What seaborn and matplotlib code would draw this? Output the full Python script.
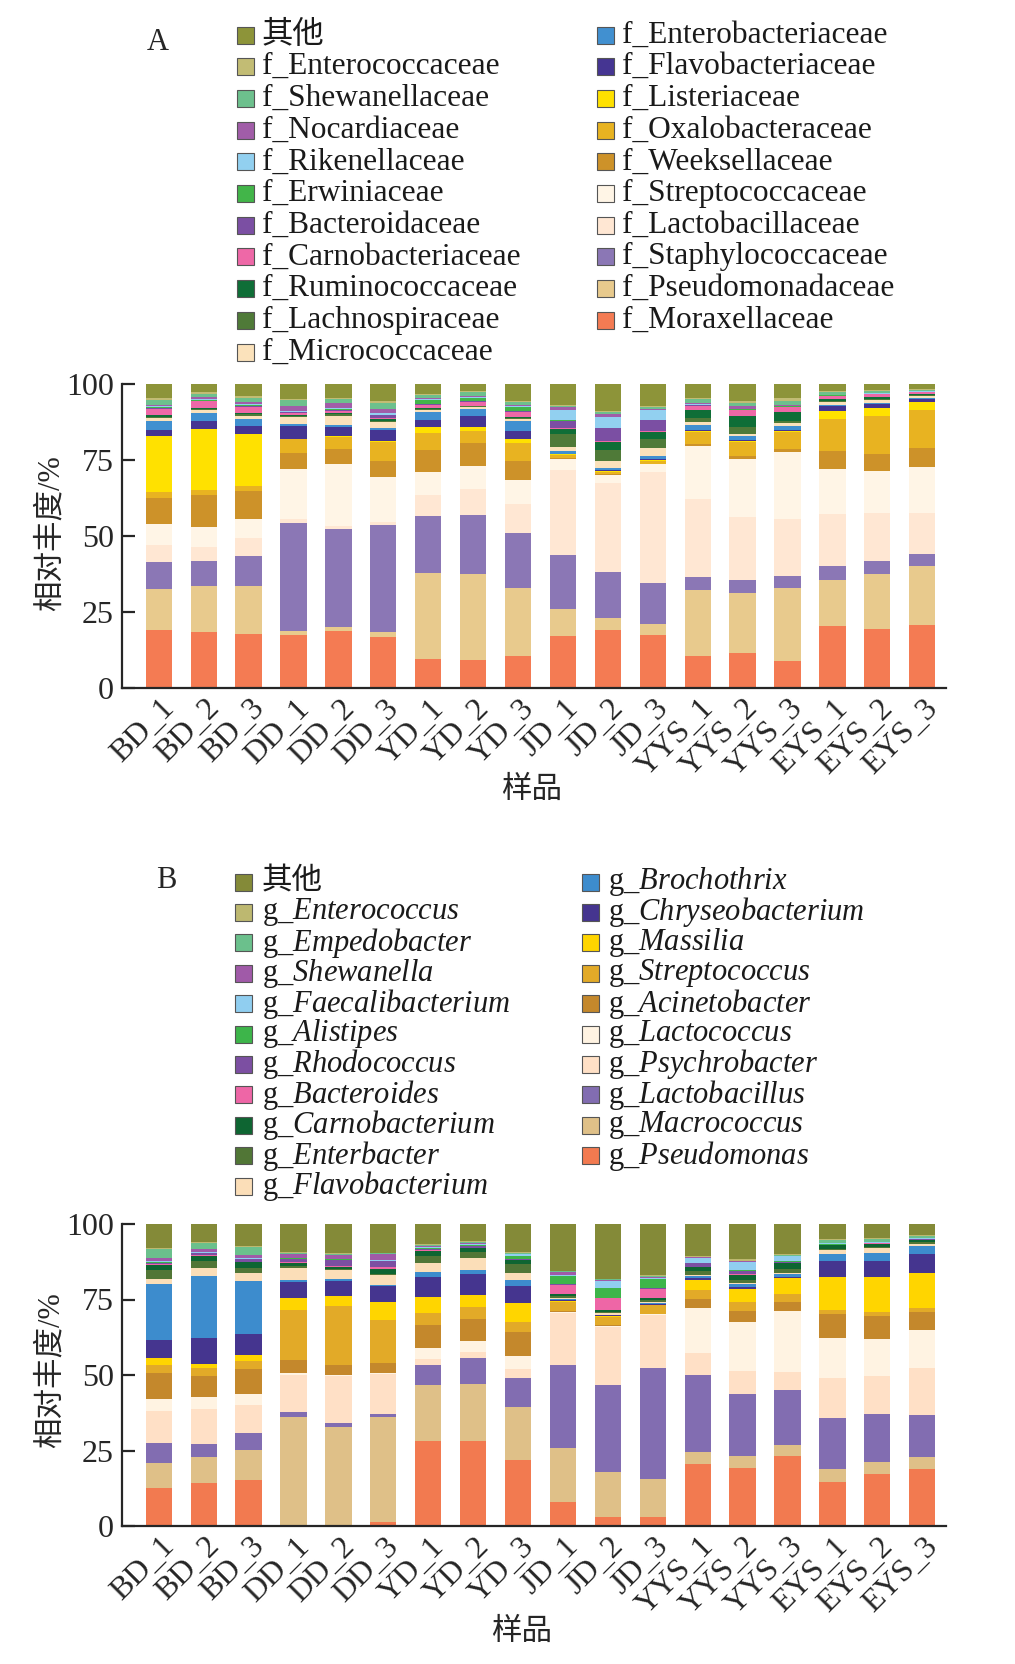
import numpy as np
import pandas as pd
import matplotlib
matplotlib.use("Agg")
import matplotlib.pyplot as plt
import matplotlib.transforms as mtransforms
from matplotlib.patches import Rectangle
import seaborn as sns

samples = ["BD_1", "BD_2", "BD_3", "DD_1", "DD_2", "DD_3", "YD_1", "YD_2", "YD_3",
           "JD_1", "JD_2", "JD_3", "YYS_1", "YYS_2", "YYS_3", "EYS_1", "EYS_2", "EYS_3"]
yticks = [0, 25, 50, 75, 100]

# ---------------- Panel A (family level), stacking order bottom -> top ----------------
a_moraxellaceae = [19.5, 18.5, 17.9, 17.6, 19.1, 16.8, 9.5, 9.5, 10.5, 16.9, 19.3, 17.6, 10.5, 11.5, 9.0, 20.7, 19.6, 21.0]
a_pseudomonadaceae = [13.7, 15.2, 16.2, 1.1, 1.3, 1.6, 28.7, 28.7, 22.8, 9.0, 3.8, 3.8, 21.9, 20.0, 24.3, 15.0, 18.3, 19.5]
a_staphylococcaceae = [8.8, 8.5, 9.9, 35.8, 32.6, 35.4, 18.8, 19.6, 18.0, 17.7, 15.3, 13.4, 4.4, 4.2, 3.7, 4.7, 4.4, 4.0]
a_lactobacillaceae = [5.6, 4.4, 6.0, 1.4, 0.8, 1.1, 6.8, 8.5, 9.6, 28.0, 29.2, 37.0, 25.7, 20.8, 18.9, 17.4, 15.7, 13.5]
a_streptococcaceae = [7.0, 6.9, 6.4, 16.4, 20.6, 14.8, 7.8, 7.7, 8.2, 3.5, 2.7, 2.5, 17.5, 19.5, 22.5, 14.6, 14.2, 15.0]
a_weeksellaceae = [8.9, 10.6, 9.2, 5.5, 5.1, 5.3, 7.3, 7.7, 6.2, 0.3, 0.2, 0.2, 0.5, 1.0, 0.8, 6.0, 5.7, 6.5]
a_oxalobacteraceae = [1.9, 1.6, 1.6, 4.4, 4.1, 6.5, 5.5, 4.1, 6.0, 1.1, 0.9, 1.0, 4.1, 4.5, 5.8, 10.7, 12.4, 12.5]
a_listeriaceae = [18.9, 20.3, 17.5, 0.1, 0.1, 0.1, 1.9, 1.4, 1.4, 0.1, 0.1, 0.1, 0.2, 0.3, 0.2, 2.7, 2.6, 2.5]
a_flavobacteriaceae = [1.9, 2.4, 2.5, 4.4, 3.1, 3.9, 2.5, 3.5, 2.5, 0.3, 0.3, 0.4, 0.3, 0.3, 0.3, 1.5, 1.4, 1.0]
a_enterobacteriaceae = [3.0, 2.7, 2.4, 0.5, 0.5, 0.4, 2.7, 2.5, 3.3, 0.8, 0.8, 1.1, 1.6, 1.3, 1.5, 0.3, 0.4, 0.5]
a_micrococcaceae = [0.9, 1.1, 1.0, 2.3, 3.3, 2.0, 0.5, 0.5, 0.8, 1.4, 2.4, 2.4, 1.1, 0.9, 0.9, 1.1, 0.9, 0.5]
a_lachnospiraceae = [0.5, 0.3, 0.6, 0.4, 0.5, 0.5, 0.3, 0.3, 0.3, 4.3, 3.6, 3.3, 1.3, 2.2, 0.5, 0.3, 0.3, 0.3]
a_ruminococcaceae = [0.7, 0.5, 0.6, 0.4, 0.4, 0.5, 0.3, 0.3, 0.3, 1.4, 2.5, 2.2, 2.8, 3.7, 3.1, 0.8, 0.8, 0.5]
a_carnobacteriaceae = [1.9, 2.0, 1.8, 0.5, 0.5, 0.5, 1.1, 1.1, 1.6, 0.5, 0.4, 0.4, 1.3, 1.8, 1.6, 0.9, 0.9, 0.6]
a_bacteroidaceae = [0.3, 0.3, 0.4, 0.4, 0.5, 0.8, 0.3, 0.3, 0.3, 2.4, 4.2, 3.5, 0.2, 0.2, 0.2, 0.1, 0.1, 0.1]
a_erwiniaceae = [0.3, 0.3, 0.4, 0.2, 0.2, 0.3, 1.5, 1.1, 1.4, 0.2, 0.2, 0.2, 0.1, 0.1, 0.1, 0.1, 0.1, 0.1]
a_rikenellaceae = [0.3, 0.3, 0.3, 0.3, 0.3, 0.4, 0.3, 0.3, 0.3, 3.3, 3.6, 3.1, 0.2, 0.2, 0.2, 0.1, 0.1, 0.1]
a_nocardiaceae = [0.5, 0.5, 0.6, 1.6, 1.8, 1.5, 0.4, 0.4, 0.4, 0.9, 0.8, 0.4, 0.5, 0.8, 0.4, 0.2, 0.2, 0.2]
a_shewanellaceae = [1.5, 1.2, 1.2, 1.9, 1.3, 2.0, 0.8, 1.2, 1.0, 0.5, 0.6, 0.6, 1.1, 1.1, 1.1, 0.8, 0.5, 0.3]
a_enterococcaceae = [0.8, 0.6, 0.8, 0.4, 0.4, 0.5, 0.4, 0.6, 0.4, 0.3, 0.4, 0.4, 0.5, 0.8, 0.9, 0.5, 0.5, 0.3]
a_other = [4.6, 2.6, 4.0, 4.9, 4.6, 5.7, 3.3, 2.2, 5.5, 6.8, 9.0, 7.3, 4.6, 5.5, 4.8, 2.2, 1.9, 1.6]

a_labels = ["f_Moraxellaceae", "f_Pseudomonadaceae", "f_Staphylococcaceae", "f_Lactobacillaceae",
            "f_Streptococcaceae", "f_Weeksellaceae", "f_Oxalobacteraceae", "f_Listeriaceae",
            "f_Flavobacteriaceae", "f_Enterobacteriaceae", "f_Micrococcaceae", "f_Lachnospiraceae",
            "f_Ruminococcaceae", "f_Carnobacteriaceae", "f_Bacteroidaceae", "f_Erwiniaceae",
            "f_Rikenellaceae", "f_Nocardiaceae", "f_Shewanellaceae", "f_Enterococcaceae", "其他"]
a_colors = ["#F47B53", "#E8CA8D", "#8B77B5", "#FFE7D3", "#FFF5E6", "#CD9229", "#E8B321",
            "#FFE100", "#453592", "#4190D0", "#FBE2BB", "#4F7A38", "#0F6E37", "#EE68A7",
            "#7B4FA3", "#42B549", "#92D0F0", "#A15DA8", "#6DC08D", "#C2BC74", "#8D9439"]

# ---------------- Panel B (genus level), stacking order bottom -> top ----------------
b_pseudomonas = [12.5, 14.5, 15.5, 0.3, 0.3, 1.2, 28.5, 28.5, 22.0, 8.0, 3.0, 3.0, 21.0, 19.5, 23.5, 14.5, 17.5, 19.0]
b_macrococcus = [8.5, 8.5, 10.0, 35.9, 32.9, 35.3, 18.4, 19.2, 18.0, 18.0, 15.0, 13.0, 4.0, 4.0, 3.5, 4.5, 4.0, 4.0]
b_lactobacillus = [6.5, 4.5, 5.8, 1.4, 1.3, 1.1, 6.8, 8.6, 9.5, 28.0, 29.2, 37.2, 26.0, 20.9, 18.6, 17.1, 16.1, 14.0]
b_psychrobacter = [10.8, 11.5, 9.3, 12.5, 16.0, 13.4, 2.0, 2.0, 3.2, 17.3, 19.7, 18.0, 7.5, 7.7, 5.9, 13.2, 12.7, 15.5]
b_lactococcus = [3.9, 4.1, 3.6, 0.5, 0.3, 0.3, 3.6, 3.7, 4.2, 0.5, 0.3, 0.3, 15.1, 16.6, 20.4, 13.3, 12.4, 12.5]
b_acinetobacter = [8.6, 6.9, 8.5, 4.4, 3.4, 3.4, 7.9, 7.5, 7.9, 0.2, 0.2, 0.2, 3.1, 3.7, 3.1, 8.1, 7.7, 6.3]
b_streptococcus = [2.8, 2.6, 2.8, 16.5, 19.7, 14.5, 3.9, 3.9, 3.6, 3.3, 2.8, 2.8, 3.1, 3.1, 2.8, 1.1, 1.5, 1.2]
b_massilia = [2.2, 1.4, 1.7, 4.1, 3.4, 6.1, 5.2, 4.2, 6.1, 0.2, 0.2, 0.2, 3.3, 4.4, 5.3, 11.0, 11.6, 11.5]
b_chryseobacterium = [6.1, 8.8, 7.2, 5.3, 5.2, 5.2, 6.9, 7.0, 5.8, 0.3, 0.3, 0.3, 0.5, 0.5, 0.4, 5.3, 5.3, 6.5]
b_brochothrix = [18.7, 20.4, 17.7, 0.5, 0.5, 0.5, 1.7, 1.4, 1.9, 0.3, 0.3, 0.3, 0.8, 1.1, 1.1, 2.5, 2.8, 2.5]
b_flavobacterium = [1.7, 2.8, 2.6, 4.1, 3.0, 3.3, 2.8, 3.9, 2.4, 0.5, 0.4, 0.4, 0.3, 0.3, 0.3, 1.3, 1.7, 0.8]
b_enterbacter = [3.0, 2.2, 1.8, 0.6, 0.4, 0.5, 2.4, 2.0, 3.1, 0.5, 0.5, 0.5, 1.4, 1.1, 1.3, 0.3, 0.3, 0.5]
b_carnobacterium = [1.8, 1.9, 1.9, 0.9, 0.8, 1.5, 1.8, 1.3, 1.3, 0.6, 0.6, 0.6, 1.3, 1.7, 1.8, 1.2, 1.1, 0.8]
b_bacteroides = [0.2, 0.2, 0.2, 0.3, 0.3, 0.9, 0.2, 0.2, 0.2, 3.0, 3.9, 3.1, 0.2, 0.2, 0.2, 0.1, 0.1, 0.1]
b_rhodococcus = [0.4, 0.6, 0.8, 1.1, 2.0, 1.7, 0.4, 0.6, 0.3, 0.4, 0.3, 0.5, 1.1, 1.1, 0.3, 0.1, 0.1, 0.1]
b_alistipes = [0.2, 0.2, 0.2, 0.2, 0.2, 0.2, 0.2, 0.2, 0.9, 2.8, 3.3, 2.8, 0.2, 0.2, 0.2, 0.1, 0.1, 0.1]
b_faecalibacterium = [0.4, 0.3, 0.3, 0.2, 0.2, 0.2, 0.4, 0.5, 0.5, 0.3, 2.2, 0.6, 1.7, 2.8, 1.7, 0.4, 0.2, 0.2]
b_shewanella = [0.9, 0.9, 0.9, 1.4, 1.3, 2.2, 0.4, 0.3, 0.3, 1.1, 0.3, 0.3, 0.2, 0.2, 0.2, 0.1, 0.1, 0.1]
b_empedobacter = [3.0, 2.2, 2.8, 0.3, 0.2, 0.2, 0.3, 0.3, 0.3, 0.2, 0.3, 0.3, 0.2, 0.2, 0.2, 1.0, 1.1, 0.8]
b_enterococcus = [0.3, 0.3, 0.3, 0.2, 0.2, 0.2, 0.4, 0.3, 0.3, 0.2, 0.2, 0.2, 0.3, 0.5, 0.5, 0.3, 0.3, 0.4]
b_other = [8.1, 5.9, 7.4, 9.3, 9.9, 9.6, 6.6, 5.7, 9.3, 15.6, 18.4, 17.3, 10.7, 11.8, 9.9, 5.0, 4.6, 3.5]

b_genera = ["Pseudomonas", "Macrococcus", "Lactobacillus", "Psychrobacter", "Lactococcus",
            "Acinetobacter", "Streptococcus", "Massilia", "Chryseobacterium", "Brochothrix",
            "Flavobacterium", "Enterbacter", "Carnobacterium", "Bacteroides", "Rhodococcus",
            "Alistipes", "Faecalibacterium", "Shewanella", "Empedobacter", "Enterococcus"]
b_colors = ["#F27A50", "#DFC088", "#826DB1", "#FFE0C6", "#FFF3E2", "#C4882C", "#E2AA28",
            "#FFD500", "#45358F", "#3D8CCD", "#FBDEB8", "#517636", "#0E6532", "#EE66A6",
            "#7C4FA2", "#3DB54A", "#90CEF0", "#A05AA8", "#6BC08C", "#BDB870", "#848A38"]

a_values = [a_moraxellaceae, a_pseudomonadaceae, a_staphylococcaceae, a_lactobacillaceae,
            a_streptococcaceae, a_weeksellaceae, a_oxalobacteraceae, a_listeriaceae,
            a_flavobacteriaceae, a_enterobacteriaceae, a_micrococcaceae, a_lachnospiraceae,
            a_ruminococcaceae, a_carnobacteriaceae, a_bacteroidaceae, a_erwiniaceae,
            a_rikenellaceae, a_nocardiaceae, a_shewanellaceae, a_enterococcaceae, a_other]
b_values = [b_pseudomonas, b_macrococcus, b_lactobacillus, b_psychrobacter, b_lactococcus,
            b_acinetobacter, b_streptococcus, b_massilia, b_chryseobacterium, b_brochothrix,
            b_flavobacterium, b_enterbacter, b_carnobacterium, b_bacteroides, b_rhodococcus,
            b_alistipes, b_faecalibacterium, b_shewanella, b_empedobacter, b_enterococcus, b_other]
b_labels = ["g_$\\mathit{%s}$" % g for g in b_genera] + ["其他"]

# ---------------- style ----------------
sns.set_style("ticks")
plt.rcParams["font.family"] = ["Liberation Serif", "Noto Sans CJK SC"]
plt.rcParams["mathtext.fontset"] = "custom"
plt.rcParams["mathtext.rm"] = "Liberation Serif"
plt.rcParams["mathtext.it"] = "Liberation Serif:italic"
FS = 22
FS_TICK = 23

W, H = 1015, 1664
fig = plt.figure(figsize=(W / 100, H / 100), dpi=100)


def fx(px):
    return px / W


def fy(py):
    return 1 - py / H


def draw_panel(ax, values, colors):
    vals = np.array(values, dtype=float)
    vals = vals / vals.sum(axis=0) * 100.0
    cum = np.cumsum(vals, axis=0)
    for i in range(len(values) - 1, -1, -1):
        df = pd.DataFrame({"sample": samples, "top": cum[i]})
        sns.barplot(data=df, x="sample", y="top", order=samples, color=colors[i],
                    saturation=1, width=0.585, errorbar=None, linewidth=0, ax=ax)
    ax.set_xlim(-0.82, 17.53)
    ax.set_ylim(0, 100)
    ax.set_yticks(yticks)
    ax.set_xlabel("")
    ax.set_ylabel("")
    for s in ["top", "right"]:
        ax.spines[s].set_visible(False)
    ax.spines["left"].set_linewidth(1.6)
    ax.spines["bottom"].set_linewidth(1.6)
    ax.tick_params(axis="y", direction="in", length=9, width=1.6, labelsize=FS_TICK, pad=6)
    ax.tick_params(axis="x", length=0, labelsize=FS_TICK, pad=2)
    ax.set_xticks(range(len(samples)))
    ax.set_xticklabels(samples, rotation=45, ha="right", va="top", rotation_mode="anchor")
    off = mtransforms.ScaledTranslation(1 / 100, -3 / 100, fig.dpi_scale_trans)
    for lab in ax.get_xticklabels():
        lab.set_transform(lab.get_transform() + off)


def draw_legend(labels, colors, x_marker, x_text, y0, dy, nrow1, fs):
    order = list(range(len(labels) - 1, -1, -1))
    sq = 17
    for k, idx in enumerate(order):
        col = 0 if k < nrow1 else 1
        row = k if k < nrow1 else k - nrow1
        yc = y0 + row * dy
        xm = x_marker[col]
        fig.patches.append(Rectangle((fx(xm - sq / 2), fy(yc + sq / 2)), sq / W, sq / H,
                                     transform=fig.transFigure, facecolor=colors[idx],
                                     edgecolor="#555555", linewidth=0.8))
        fig.text(fx(x_text[col]), fy(yc), labels[idx], fontsize=fs, ha="left",
                 va="center", color="#1a1a1a")


# Panel A
axA = fig.add_axes([fx(122), fy(688), fx(824), 304 / H])
draw_panel(axA, a_values, a_colors)
fig.text(fx(158), fy(43), "A", fontsize=FS, ha="center", va="center")
draw_legend(a_labels, a_colors, [245, 605], [262, 622], 35, 31.7, 11, 22.6)
fig.text(fx(51), fy(533), "相对丰度/%", fontsize=FS, rotation=90, ha="center", va="center")
fig.text(fx(532), fy(790), "样品", fontsize=FS, ha="center", va="center")

# Panel B
axB = fig.add_axes([fx(122), fy(1526), fx(824), 302 / H])
draw_panel(axB, b_values, b_colors)
fig.text(fx(166), fy(880), "B", fontsize=FS, ha="center", va="center")
draw_legend(b_labels, b_colors, [243, 590], [262, 608], 882, 30.4, 11, 22.0)
fig.text(fx(51), fy(1370), "相对丰度/%", fontsize=FS, rotation=90, ha="center", va="center")
fig.text(fx(522), fy(1632), "样品", fontsize=FS, ha="center", va="center")

fig.savefig("out.png", dpi=100)
